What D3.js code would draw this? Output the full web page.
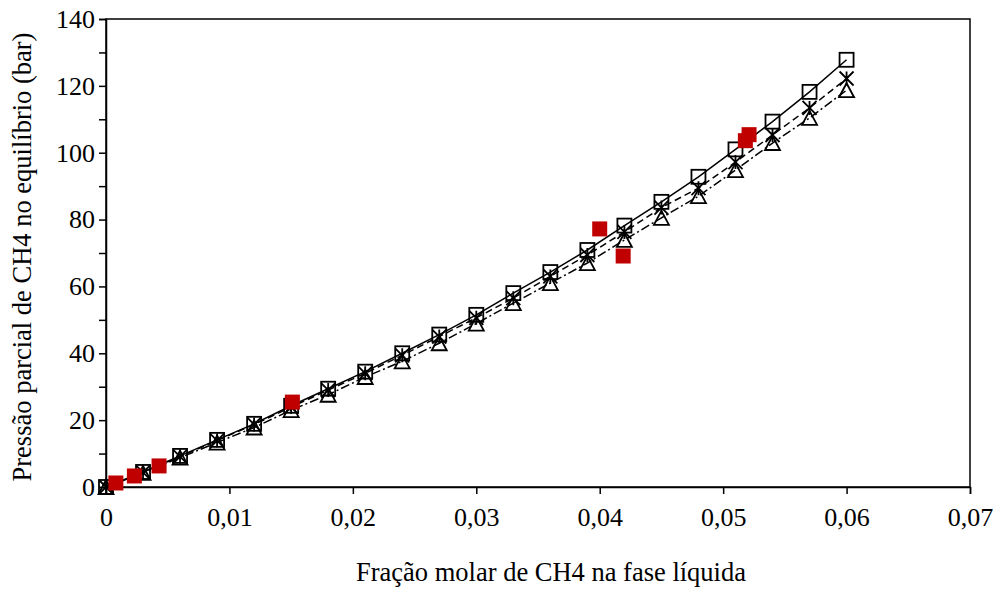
<!DOCTYPE html>
<html><head><meta charset="utf-8">
<script src="https://cdn.jsdelivr.net/npm/d3@7"></script>
<style>body{margin:0;background:#fff}svg{display:block}text{font-family:"Liberation Serif","Times New Roman",serif;fill:#000}</style>
</head><body><svg id="c" width="998" height="589"></svg>
<script>
const xValues = [0,0.003,0.006,0.009,0.012,0.015,0.018,0.021,0.024,0.027,0.030,0.033,0.036,0.039,0.042,0.045,0.048,0.051,0.054,0.057,0.060];
const squareSeries = [0,4.5,9.3,14.1,18.9,24.3,29.4,34.5,40,45.6,51.5,58,64.3,70.9,78.2,85.3,92.8,101,109.3,118.2,127.8];
const starSeries = [0,4.4,9.1,13.9,18.7,23.9,29,34,39.4,45,50.6,56.5,63,69.4,76.3,83.6,89.4,97.2,105.3,113.4,122.2];
const triangleSeries = [0,4.2,8.8,13.3,17.8,23,27.6,32.9,37.6,43,48.9,55,61,67,73.9,80.5,87,94.8,102.9,110.4,118.7];
const expX = [0.0008,0.0023,0.0043,0.0151,0.0400,0.0419,0.0518,0.0521];
const expY = [1.2,3.3,6.3,25.4,77.2,69.1,103.6,105.4];
const xTicks = [0,0.01,0.02,0.03,0.04,0.05,0.06,0.07];
const yTicks = [0,20,40,60,80,100,120,140];
const xTitle = "Fração molar de CH4 na fase líquida";
const yTitle = "Pressão parcial de CH4 no equilíbrio (bar)";

const svg = d3.select("#c");
const L=106, R=970, T=19, B=487;
const x = d3.scaleLinear().domain([0,0.07]).range([L,R]);
const y = d3.scaleLinear().domain([0,140]).range([B,T]);
const fmt = d => d===0 ? "0" : d3.format(".2f")(d).replace(".",",");

// frame
svg.append("rect").attr("x",L).attr("y",T).attr("width",R-L).attr("height",B-T)
  .attr("fill","none").attr("stroke","#000").attr("stroke-width",1.5);

const xa = svg.append("g").attr("transform",`translate(0,${B})`)
  .call(d3.axisBottom(x).tickValues(xTicks).tickFormat(fmt).tickSize(7).tickPadding(14));
const ya = svg.append("g").attr("transform",`translate(${L},0)`)
  .call(d3.axisLeft(y).tickValues(d3.range(0,141,10)).tickFormat(d => yTicks.includes(d)?String(d):"").tickSize(7).tickPadding(4));
[xa,ya].forEach(a=>{
  a.selectAll(".domain").attr("stroke","#000").attr("stroke-width",1.5);
  a.selectAll(".tick line").attr("stroke","#000").attr("stroke-width",1.5);
  a.selectAll("text").style("font-family","'Liberation Serif',serif").attr("font-size",26).attr("fill","#000");
});

svg.append("text").attr("x",551).attr("y",581).attr("text-anchor","middle").attr("font-size",26.5).text(xTitle);
svg.append("text").attr("transform",`translate(31,${257}) rotate(-90)`).attr("text-anchor","middle").attr("font-size",26.5).text(yTitle);

const mk = (ys) => xValues.map((v,i)=>[v,ys[i]]);
const line = d3.line().x(d=>x(d[0])).y(d=>y(d[1]));
const g = svg.append("g");
g.append("path").attr("d",line(mk(triangleSeries))).attr("fill","none").attr("stroke","#000").attr("stroke-width",1.5).attr("stroke-dasharray","9,3,2,3");
g.append("path").attr("d",line(mk(starSeries))).attr("fill","none").attr("stroke","#000").attr("stroke-width",1.5).attr("stroke-dasharray","7,4");
g.append("path").attr("d",line(mk(squareSeries))).attr("fill","none").attr("stroke","#000").attr("stroke-width",1.5);

// triangles
g.selectAll(".tri").data(mk(triangleSeries)).join("path")
  .attr("d",d=>{const cx=x(d[0]),cy=y(d[1]);return `M${cx},${cy-7}L${cx+7.5},${cy+7}L${cx-7.5},${cy+7}Z`;})
  .attr("fill","none").attr("stroke","#000").attr("stroke-width",1.8);
// stars
g.selectAll(".star").data(mk(starSeries)).join("path")
  .attr("d",d=>{const cx=x(d[0]),cy=y(d[1]),s=7;return `M${cx-s},${cy-s}L${cx+s},${cy+s}M${cx+s},${cy-s}L${cx-s},${cy+s}M${cx},${cy-s}L${cx},${cy+s}`;})
  .attr("fill","none").attr("stroke","#000").attr("stroke-width",1.8);
// squares
g.selectAll(".sq").data(mk(squareSeries)).join("rect")
  .attr("x",d=>x(d[0])-7).attr("y",d=>y(d[1])-7).attr("width",14).attr("height",14)
  .attr("fill","none").attr("stroke","#000").attr("stroke-width",1.8);
// experimental
g.selectAll(".exp").data(expX.map((v,i)=>[v,expY[i]])).join("rect")
  .attr("x",d=>x(d[0])-7.5).attr("y",d=>y(d[1])-7.5).attr("width",15).attr("height",15)
  .attr("fill","#C00000");
</script></body></html>
